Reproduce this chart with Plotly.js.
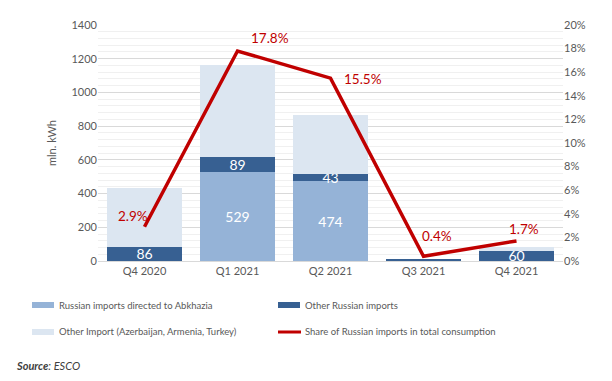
<!DOCTYPE html>
<html>
<head>
<meta charset="utf-8">
<script src="https://cdn.plot.ly/plotly-3.0.1.min.js"></script>
<style>html,body{margin:0;padding:0;background:#fff;}#chart{width:612px;height:381px;}</style>
</head>
<body>
<div id="chart"></div>
<script>
var categories = ["Q4 2020", "Q1 2021", "Q2 2021", "Q3 2021", "Q4 2021"];
var abkhazia = [0, 529, 474, 0, 0];
var otherRussian = [86, 89, 43, 14, 60];
var otherImport = [349, 545, 349, 0, 23];
var share = [2.9, 17.8, 15.5, 0.4, 1.7];
var seriesNames = ["Russian imports directed to Abkhazia", "Other Russian imports",
                   "Other Import (Azerbaijan, Armenia, Turkey)", "Share of Russian imports in total consumption"];

var colors = ["#95B3D7", "#376092", "#DCE6F1", "#C00000"];
var font = "Lato, 'Open Sans', sans-serif";

var abkText = abkhazia.map(function(v){ return v > 0 ? String(v) : ""; });
var orText = otherRussian.map(function(v){ return v >= 40 ? String(v) : ""; });

var traces = [
  {type: "bar", name: seriesNames[0], x: categories, y: abkhazia,
   marker: {color: colors[0]}, text: abkText, textposition: "inside", insidetextanchor: "middle",
   textangle: 0, constraintext: "none",
   textfont: {color: "#ffffff", size: 14, family: font}},
  {type: "bar", name: seriesNames[1], x: categories, y: otherRussian,
   marker: {color: colors[1]}, text: orText, textposition: "inside", insidetextanchor: "middle",
   textangle: 0, constraintext: "none",
   textfont: {color: "#ffffff", size: 14, family: font}},
  {type: "bar", name: seriesNames[2], x: categories, y: otherImport,
   marker: {color: colors[2]}},
  {type: "scatter", mode: "lines", name: seriesNames[3],
   x: categories, y: share, yaxis: "y2", line: {color: colors[3], width: 3.5}, cliponaxis: false}
];

// label offsets (pixels) for the line labels
var labelShift = [[-12, 11], [32, 13], [32, -1], [13, 20], [7, 12]];
var annotations = share.map(function(v, i){
  return {x: categories[i], y: v, xref: "x", yref: "y2", text: v.toFixed(1) + "%",
          showarrow: false, xanchor: "center", yanchor: "middle",
          xshift: labelShift[i][0], yshift: labelShift[i][1],
          font: {color: "#C00000", size: 13.5, family: font}};
});

// manual legend (paper coordinates from pixel positions)
function px(x){ return (x - 98) / 465; }
function py(y){ return (261 - y) / 236; }
var legendPos = [[32, 305], [278, 305], [32, 332], [278, 332]];
var shapes = [];
legendPos.forEach(function(p, i){
  if (i < 3) {
    shapes.push({type: "rect", xref: "paper", yref: "paper", x0: px(p[0]), x1: px(p[0] + 22),
                 y0: py(p[1] + 3), y1: py(p[1] - 3), fillcolor: colors[i], line: {width: 0}});
  } else {
    shapes.push({type: "line", xref: "paper", yref: "paper", x0: px(p[0]), x1: px(p[0] + 23),
                 y0: py(p[1]), y1: py(p[1]), line: {color: colors[i], width: 3}});
  }
  annotations.push({xref: "paper", yref: "paper", x: px(p[0] + 25), y: py(p[1]), text: seriesNames[i],
                    showarrow: false, xanchor: "left", yanchor: "middle",
                    font: {size: 9.5, color: "#595959", family: font}});
});

annotations.push({text: "<b><i>Source</i></b><i>: ESCO</i>", xref: "paper", yref: "paper",
                  x: px(14), y: py(365), xanchor: "left", yanchor: "middle", showarrow: false,
                  font: {size: 11, color: "#404040", family: font}});

var layout = {
  width: 612, height: 381,
  margin: {l: 98, r: 49, t: 25, b: 120},
  paper_bgcolor: "#ffffff", plot_bgcolor: "#ffffff",
  barmode: "stack", bargap: 0.2,
  font: {family: font, color: "#595959", size: 11},
  showlegend: false,
  xaxis: {tickfont: {size: 11, color: "#595959"}, showline: true, linecolor: "#d9d9d9", ticks: "",
          automargin: false},
  yaxis: {range: [0, 1400], dtick: 200, tickfont: {size: 11, color: "#595959"},
          gridcolor: "#d9d9d9", zeroline: false, automargin: false,
          minor: {dtick: 40, showgrid: true, gridcolor: "#f0f0f0"},
          title: {text: "mln. kWh", font: {size: 11, color: "#595959"}, standoff: 12}},
  yaxis2: {overlaying: "y", side: "right", range: [0, 20], dtick: 2, ticksuffix: "%",
           showgrid: false, zeroline: false, automargin: false,
           tickfont: {size: 11, color: "#595959"}},
  annotations: annotations,
  shapes: shapes
};

Plotly.newPlot("chart", traces, layout, {displayModeBar: false, staticPlot: true});
</script>
</body>
</html>
